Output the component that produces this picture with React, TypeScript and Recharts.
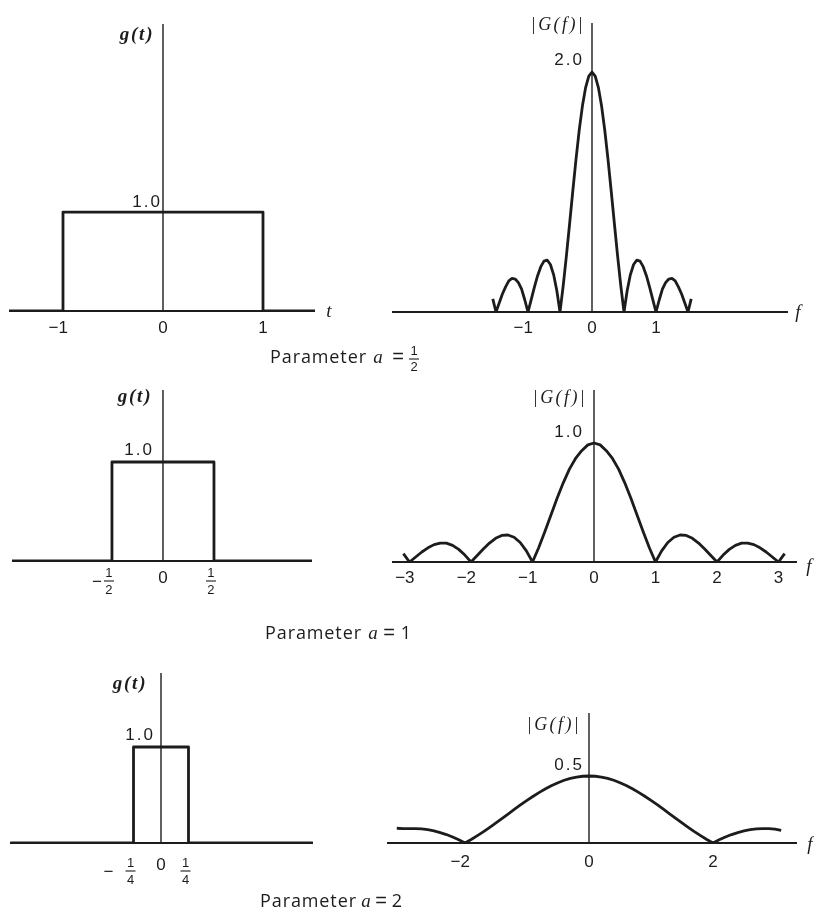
import React from "react";
import { LineChart, Line, XAxis, YAxis, ReferenceLine } from "recharts";

// ---- rectangular pulses g(t) ----
const pulseT1 = [-1.54, -1, -1, 1, 1, 1.52];
const pulseT2 = [-1.48, -0.5, -0.5, 0.5, 0.5, 1.46];
const pulseT3 = [-1.37, -0.25, -0.25, 0.25, 0.25, 1.38];
const pulseG = [0, 0, 1, 1, 0, 0];

// ---- |G(f)| for a = 1/2 ----
const freq1 = [
  -1.55, -1.5, -1.45, -1.4, -1.35, -1.3, -1.25, -1.2, -1.15, -1.1, -1.05, -1.0,
  -0.95, -0.9, -0.85, -0.8, -0.75, -0.7, -0.65, -0.6, -0.55, -0.5, -0.45, -0.4,
  -0.35, -0.3, -0.25, -0.2, -0.15, -0.1, -0.05, 0, 0.05, 0.1, 0.15, 0.2, 0.25,
  0.3, 0.35, 0.4, 0.45, 0.5, 0.55, 0.6, 0.65, 0.7, 0.75, 0.8, 0.85, 0.9, 0.95,
  1.0, 1.05, 1.1, 1.15, 1.2, 1.25, 1.3, 1.35, 1.4, 1.45, 1.5, 1.55,
];
const mag1 = [
  0.11, 0, 0.075, 0.15, 0.21, 0.26, 0.28, 0.275, 0.245, 0.19, 0.1, 0,
  0.104, 0.208, 0.303, 0.378, 0.424, 0.432, 0.396, 0.312, 0.179, 0, 0.219, 0.468,
  0.736, 1.009, 1.273, 1.514, 1.717, 1.871, 1.967, 2.0, 1.967, 1.871, 1.717, 1.514, 1.273,
  1.009, 0.736, 0.468, 0.219, 0, 0.179, 0.312, 0.396, 0.432, 0.424, 0.378, 0.303, 0.208, 0.104,
  0, 0.1, 0.19, 0.245, 0.275, 0.28, 0.26, 0.21, 0.15, 0.075, 0, 0.11,
];

// ---- |G(f)| for a = 1 ----
const freq2 = [
  -3.1, -3.0, -2.9, -2.8, -2.7, -2.6, -2.5, -2.4, -2.3, -2.2, -2.1, -2.0, -1.9,
  -1.8, -1.7, -1.6, -1.5, -1.4, -1.3, -1.2, -1.1, -1.0, -0.9, -0.8, -0.7, -0.6,
  -0.5, -0.4, -0.3, -0.2, -0.1, 0, 0.1, 0.2, 0.3, 0.4, 0.5, 0.6, 0.7, 0.8, 0.9,
  1.0, 1.1, 1.2, 1.3, 1.4, 1.5, 1.6, 1.7, 1.8, 1.9, 2.0, 2.1, 2.2, 2.3, 2.4, 2.5,
  2.6, 2.7, 2.8, 2.9, 3.0, 3.1,
];
const mag2 = [
  0.07, 0, 0.042, 0.084, 0.119, 0.146, 0.159, 0.158, 0.14, 0.106, 0.058, 0, 0.054,
  0.109, 0.159, 0.199, 0.223, 0.227, 0.208, 0.164, 0.094, 0, 0.12, 0.255, 0.395, 0.535,
  0.665, 0.78, 0.87, 0.935, 0.984, 1.0, 0.984, 0.935, 0.87, 0.78, 0.665, 0.535, 0.395, 0.255, 0.12,
  0, 0.094, 0.164, 0.208, 0.227, 0.223, 0.199, 0.159, 0.109, 0.054, 0, 0.058, 0.106, 0.14, 0.158, 0.159,
  0.146, 0.119, 0.084, 0.042, 0, 0.07,
];

// ---- |G(f)| for a = 2 ----
const freq3 = freq2;
const mag3 = [
  0.11, 0.108, 0.108, 0.108, 0.105, 0.099, 0.09, 0.078, 0.063, 0.045, 0.024, 0, 0.026,
  0.055, 0.085, 0.117, 0.15, 0.184, 0.218, 0.252, 0.286, 0.318, 0.349, 0.378, 0.405, 0.429,
  0.45, 0.468, 0.482, 0.492, 0.498, 0.5, 0.498, 0.492, 0.482, 0.468, 0.45, 0.429, 0.405, 0.378, 0.349,
  0.318, 0.286, 0.252, 0.218, 0.184, 0.15, 0.117, 0.085, 0.055, 0.026, 0, 0.024, 0.045, 0.063, 0.078, 0.09,
  0.099, 0.105, 0.108, 0.108, 0.104, 0.095,
];

// ---- tick values / labels ----
const ticks1L = [-1, 0, 1];
const labels1L = ["−1", "0", "1"];
const ticks1R = [-1, 0, 1];
const labels1R = ["−1", "0", "1"];
const ticks2L = [-0.5, 0, 0.5];
const labels2L = ["−1/2", "0", "1/2"];
const ticks2R = [-3, -2, -1, 0, 1, 2, 3];
const labels2R = ["−3", "−2", "−1", "0", "1", "2", "3"];
const ticks3L = [-0.25, 0, 0.25];
const labels3L = ["−1/4", "0", "1/4"];
const ticks3R = [-2, 0, 2];
const labels3R = ["−2", "0", "2"];

const SANS = '"Liberation Sans", Arial, sans-serif';
const SERIF = '"Liberation Serif", "Times New Roman", serif';
const INK = "#1c1c1c";

const zip = (xs: number[], ys: number[]) => xs.map((x, i) => ({ x, y: ys[i] }));

interface Panel {
  key: string;
  left: number;
  top: number;
  width: number;
  plotHeight: number;
  xDomain: [number, number];
  yMax: number;
  data: { x: number; y: number }[];
  ticks: number[];
  labels: string[];
  tickDy: number;
  fracDy?: number;
  minusGap?: number;
}

const panels: Panel[] = [
  { key: "p1", left: 9, top: 24, width: 306, plotHeight: 287, xDomain: [-1.54, 1.52], yMax: 2.9,
    data: zip(pulseT1, pulseG), ticks: ticks1L, labels: labels1L, tickDy: 22 },
  { key: "s1", left: 392, top: 23, width: 396, plotHeight: 289, xDomain: [-3.125, 3.0625], yMax: 2.41,
    data: zip(freq1, mag1), ticks: ticks1R, labels: labels1R, tickDy: 21 },
  { key: "p2", left: 12, top: 390, width: 300, plotHeight: 171, xDomain: [-1.48, 1.461], yMax: 1.727,
    data: zip(pulseT2, pulseG), ticks: ticks2L, labels: labels2L, tickDy: 22, fracDy: 16, minusGap: 15 },
  { key: "s2", left: 392, top: 390, width: 405, plotHeight: 172, xDomain: [-3.285, 3.301], yMax: 1.445,
    data: zip(freq2, mag2), ticks: ticks2R, labels: labels2R, tickDy: 21 },
  { key: "p3", left: 10, top: 673, width: 303, plotHeight: 170, xDomain: [-1.373, 1.382], yMax: 1.771,
    data: zip(pulseT3, pulseG), ticks: ticks3L, labels: labels3L, tickDy: 27, fracDy: 24, minusGap: 25 },
  { key: "s3", left: 387, top: 713, width: 410, plotHeight: 130, xDomain: [-3.258, 3.355], yMax: 0.97,
    data: zip(freq3, mag3), ticks: ticks3R, labels: labels3R, tickDy: 24 },
];

const AXIS_BAND = 50;

function makeTick(p: Panel) {
  return (props: any) => {
    const { x, y, payload } = props;
    const idx = p.ticks.indexOf(payload.value);
    const label = idx >= 0 ? p.labels[idx] : String(payload.value);
    if (label.includes("/")) {
      const neg = label.startsWith("−");
      const [num, den] = label.replace("−", "").split("/");
      const fy = y + (p.fracDy ?? 16);
      return (
        <g fill={INK} fontFamily={SANS}>
          <text x={x - 3} y={fy} fontSize={13} textAnchor="middle">{num}</text>
          <line x1={x - 8} x2={x + 2} y1={fy + 4} y2={fy + 4} stroke={INK} strokeWidth={1.1} />
          <text x={x - 3} y={fy + 17} fontSize={13} textAnchor="middle">{den}</text>
          {neg && (
            <text x={x - (p.minusGap ?? 13)} y={fy + 9.5} fontSize={17} textAnchor="middle">−</text>
          )}
        </g>
      );
    }
    const neg = label.startsWith("−");
    return (
      <text x={neg ? x + 5 : x} y={y + p.tickDy} fontSize={17} fontFamily={SANS} fill={INK}
        textAnchor={neg ? "end" : "middle"}>
        {label}
      </text>
    );
  };
}

function PanelChart({ p }: { p: Panel }) {
  return (
    <div style={{ position: "absolute", left: p.left, top: p.top, willChange: "transform" }}>
      <LineChart width={p.width} height={p.plotHeight + AXIS_BAND} data={p.data}
        margin={{ top: 0, right: 0, bottom: 0, left: 0 }}>
        <XAxis dataKey="x" type="number" domain={p.xDomain} allowDataOverflow ticks={p.ticks}
          interval={0} tickLine={false} tickSize={0} tickMargin={0} height={AXIS_BAND}
          axisLine={{ stroke: INK, strokeWidth: 2.2 }} tick={makeTick(p)} />
        <YAxis hide type="number" domain={[0, p.yMax]} allowDataOverflow />
        <ReferenceLine x={0} stroke={INK} strokeWidth={1.4} />
        <Line dataKey="y" type="linear" stroke={INK} strokeWidth={2.8} dot={false}
          strokeLinejoin="round" isAnimationActive={false} />
      </LineChart>
    </div>
  );
}

const gLabel = { fontFamily: SERIF, fontStyle: "italic", fontWeight: 700, fontSize: 19, letterSpacing: 1.8 } as const;
const GLabel = { fontFamily: SERIF, fontStyle: "italic", fontSize: 18, letterSpacing: 2.4 } as const;
const valLabel = { fontFamily: SANS, fontSize: 17, letterSpacing: 2 } as const;
const varLabel = { fontFamily: SERIF, fontStyle: "italic", fontSize: 19 } as const;
const paramLabel = { fontFamily: '"Open Sans", sans-serif', fontSize: 18, letterSpacing: 0.9 } as const;
const eqLabel = { fontFamily: SANS, fontSize: 20 } as const;
const paramNum = { fontFamily: '"Open Sans", sans-serif', fontSize: 18 } as const;

export default function App() {
  return (
    <div style={{ position: "absolute", left: 0, top: 0, width: 814, height: 912, background: "#fff" }}>
      {panels.map((p) => <PanelChart key={p.key} p={p} />)}
      <svg width={814} height={912} fill={INK}
        style={{ position: "absolute", left: 0, top: 0, pointerEvents: "none", willChange: "transform" }}>
        {/* row a = 1/2 */}
        <text x={137} y={40} textAnchor="middle" style={gLabel}>g(t)</text>
        <text x={162} y={207} textAnchor="end" style={valLabel}>1.0</text>
        <text x={329} y={317} textAnchor="middle" style={varLabel}>t</text>
        <text x={558} y={30} textAnchor="middle" style={GLabel}>|G(f)|</text>
        <text x={584} y={65} textAnchor="end" style={valLabel}>2.0</text>
        <text x={798} y={318} textAnchor="middle" style={varLabel}>f</text>
        <text x={270} y={363} style={paramLabel}>Parameter</text>
        <text x={378} y={363} textAnchor="middle" style={varLabel}>a</text>
        <text x={398} y={363} textAnchor="middle" style={eqLabel}>=</text>
        <text x={414} y={355} textAnchor="middle" fontFamily={SANS} fontSize={13}>1</text>
        <line x1={409} x2={419} y1={359} y2={359} stroke={INK} strokeWidth={1.1} />
        <text x={414} y={371} textAnchor="middle" fontFamily={SANS} fontSize={13}>2</text>

        {/* row a = 1 */}
        <text x={135} y={402} textAnchor="middle" style={gLabel}>g(t)</text>
        <text x={154} y={455} textAnchor="end" style={valLabel}>1.0</text>
        <text x={560} y={403} textAnchor="middle" style={GLabel}>|G(f)|</text>
        <text x={584} y={437} textAnchor="end" style={valLabel}>1.0</text>
        <text x={809} y={572} textAnchor="middle" style={varLabel}>f</text>
        <text x={265} y={639} style={paramLabel}>Parameter</text>
        <text x={373} y={639} textAnchor="middle" style={varLabel}>a</text>
        <text x={389} y={639} textAnchor="middle" style={eqLabel}>=</text>
        <text x={406} y={639} textAnchor="middle" style={paramNum}>1</text>

        {/* row a = 2 */}
        <text x={130} y={689} textAnchor="middle" style={gLabel}>g(t)</text>
        <text x={155} y={740} textAnchor="end" style={valLabel}>1.0</text>
        <text x={554} y={730} textAnchor="middle" style={GLabel}>|G(f)|</text>
        <text x={584} y={770} textAnchor="end" style={valLabel}>0.5</text>
        <text x={810} y={850} textAnchor="middle" style={varLabel}>f</text>
        <text x={260} y={907} style={paramLabel}>Parameter</text>
        <text x={366} y={907} textAnchor="middle" style={varLabel}>a</text>
        <text x={381} y={907} textAnchor="middle" style={eqLabel}>=</text>
        <text x={397} y={907} textAnchor="middle" style={paramNum}>2</text>
      </svg>
    </div>
  );
}
